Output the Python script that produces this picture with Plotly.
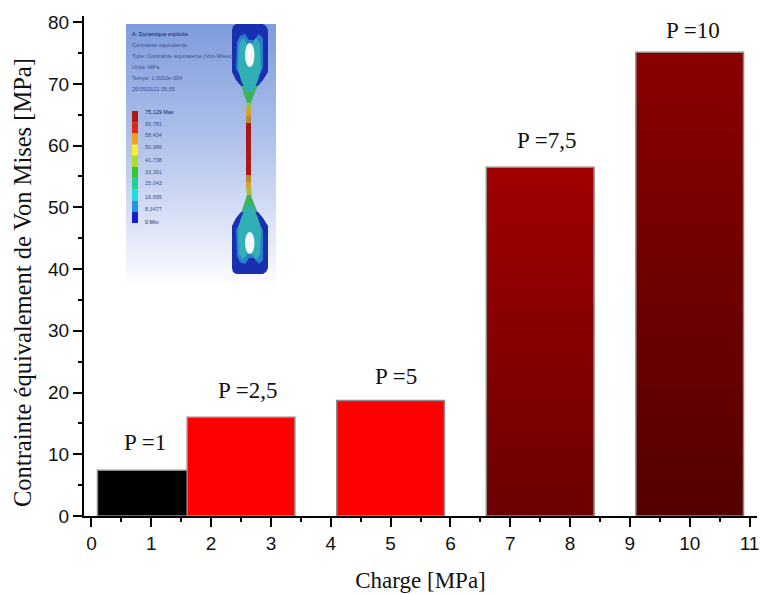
import numpy as np
import plotly.graph_objects as go

# ---- chart data
charges = [1, 2.5, 5, 7.5, 10]
stress = [7.4, 16.0, 18.7, 56.5, 75.13]
bar_width = 1.8
flat_colors = ["#000000", "#ff0000", "#ff0000", "rgba(0,0,0,0)", "rgba(0,0,0,0)"]
grad_top = [None, None, None, "#a00000", "#8a0000"]
grad_bottom = [None, None, None, "#6c0000", "#540000"]
labels = ["P =1", "P =2,5", "P =5", "P =7,5", "P =10"]
label_x = [0.89, 2.6, 5.09, 7.6, 10.06]
label_y = [11.9, 20.4, 22.6, 60.9, 78.7]

# ---- inset picture (in its own pixel-like coordinates)
inset_text = ["A: Dynamique explicite", "Contrainte équivalente",
              "Type: Contrainte équivalente (Von-Mises)", "Unité: MPa",
              "Temps: 1,0002e-004", "25/05/2021 05:55"]
inset_text_y = [33.5, 44.5, 56, 66.5, 78, 89]
scale_labels = ["75,129 Max", "66,781", "58,434", "50,086", "41,738",
                "33,391", "25,043", "16,695", "8,3477", "0 Min"]
scale_y = [112, 123.5, 135, 147, 160, 171.5, 183, 197, 209, 222]
scale_colors = ["#b01818", "#dc2a10", "#eea020", "#f6ee30", "#a8dc30",
                "#30c830", "#20d090", "#20dcdc", "#2098dc", "#1420c8"]
neck_layers = [
    ("#3cb45a", [241, 258, 253, 251, 247, 245], [85, 85, 97, 103, 103, 97]),
    ("#a8c038", [247, 252, 251, 246], [103, 103, 110, 110]),
    ("#d8a030", [246, 251, 251, 246], [110, 110, 116, 116]),
    ("#b88c30", [246, 251, 251, 246], [116, 116, 123, 123]),
    ("#a81818", [246, 251, 251, 246], [123, 123, 175, 175]),
]
head_layers = [
    ("#1830b0", [232, 233, 236, 263, 266, 268, 268, 263, 258, 241, 236, 232],
                [30, 26, 24, 24, 26, 30, 72, 80, 86, 86, 80, 72]),
    ("#2a80c8", [237, 240, 245, 249, 254, 259, 263, 263, 258, 250, 241, 236],
                [42, 36, 34, 40, 40, 34, 38, 68, 78, 86, 78, 68]),
    ("#30b0b4", [239, 243, 247, 252, 256, 260, 261, 258, 253, 246, 241, 238],
                [44, 38, 44, 44, 38, 44, 68, 80, 92, 92, 80, 68]),
]
mirror_y = 298

fig = go.Figure()

# gradient fills of the two dark bars
for x, v, top, bot in zip(charges, stress, grad_top, grad_bottom):
    if top is None:
        continue
    n = 80
    edges = np.linspace(0, v, n + 1)
    fig.add_trace(go.Heatmap(
        x=[x - bar_width / 2, x + bar_width / 2], y=edges,
        z=[[i] for i in range(n)], zmin=0, zmax=n - 1,
        colorscale=[[0, bot], [1, top]], showscale=False, hoverinfo="skip"))

fig.add_trace(go.Bar(
    x=charges, y=stress, width=bar_width,
    marker=dict(color=flat_colors, line=dict(color="#8c8c8c", width=1.5)),
    showlegend=False))

# inset background
bg_edges = np.linspace(24, 283, 81)
fig.add_trace(go.Heatmap(
    x=[126, 276], y=bg_edges, z=[[i] for i in range(80)], xaxis="x2", yaxis="y2",
    colorscale=[[0, "#7f9cdc"], [0.5, "#b6c6ec"], [1, "#fbfbff"]],
    showscale=False, hoverinfo="skip"))


def poly(xs, ys, color):
    fig.add_trace(go.Scatter(
        x=xs + xs[:1], y=ys + ys[:1], xaxis="x2", yaxis="y2", mode="lines",
        fill="toself", fillcolor=color, line=dict(width=0), hoverinfo="skip",
        showlegend=False))


for color, xs, ys in neck_layers + head_layers:
    poly(xs, ys, color)
    poly(xs, [mirror_y - y for y in ys], color)

shapes = []
for cy, ry in [(55, 12), (243, 11)]:
    shapes.append(dict(type="circle", xref="x2", yref="y2", x0=245, x1=254.5,
                       y0=cy - ry, y1=cy + ry, fillcolor="#f4fafa", line=dict(width=0)))
step = (223 - 111) / len(scale_colors)
for i, c in enumerate(scale_colors):
    shapes.append(dict(type="rect", xref="x2", yref="y2", x0=132, x1=138,
                       y0=111 + i * step, y1=111 + (i + 1) * step,
                       fillcolor=c, line=dict(width=0)))

annotations = [dict(x=x, y=y, text=t, showarrow=False, xanchor="center", yanchor="middle",
                    font=dict(family="Liberation Serif", size=23, color="#111111"))
               for x, y, t in zip(label_x, label_y, labels)]
for i, (t, y) in enumerate(zip(inset_text, inset_text_y)):
    annotations.append(dict(x=130, y=y, xref="x2", yref="y2", text=t, showarrow=False,
                            xanchor="left", yanchor="middle",
                            font=dict(family="Liberation Sans Narrow, Liberation Sans", size=5.5,
                                      color="#10205a" if i == 0 else "#3c5090")))
for i, (t, y) in enumerate(zip(scale_labels, scale_y)):
    annotations.append(dict(x=143, y=y, xref="x2", yref="y2", text=t, showarrow=False,
                            xanchor="left", yanchor="middle",
                            font=dict(family="Liberation Sans Narrow, Liberation Sans", size=5.5,
                                      color="#10205a" if i in (0, 9) else "#3c5090")))
annotations.append(dict(xref="paper", yref="paper", x=(22 - 84) / 673, y=(516 - 283) / 500,
                        text="Contrainte équivalement de Von Mises [MPa]", textangle=-90,
                        showarrow=False, xanchor="center", yanchor="middle",
                        font=dict(family="Liberation Serif", size=24.5, color="#111111")))

tick_font = dict(family="Liberation Sans", size=19, color="#111111")

fig.update_layout(
    width=760, height=594, autosize=False,
    margin=dict(l=84, r=3, t=16, b=78, autoexpand=False),
    paper_bgcolor="white", plot_bgcolor="white",
    barmode="overlay", showlegend=False,
    shapes=shapes, annotations=annotations,
    xaxis=dict(range=[-0.125, 11.125], tick0=0, dtick=1, ticks="outside", ticklen=9,
               tickwidth=2, tickcolor="black", showline=True, linecolor="black", linewidth=2,
               showgrid=False, zeroline=False, tickfont=tick_font,
               minor=dict(tick0=0, dtick=0.5, ticks="outside", ticklen=4, tickwidth=2,
                          tickcolor="black", showgrid=False),
               title=dict(text="Charge [MPa]", font=dict(family="Liberation Serif", size=23,
                                                         color="#111111"), standoff=19)),
    yaxis=dict(range=[0, 81], tick0=0, dtick=10, ticks="outside", ticklen=9,
               tickwidth=2, tickcolor="black", showline=True, linecolor="black", linewidth=2,
               showgrid=False, zeroline=False, tickfont=tick_font,
               minor=dict(tick0=0, dtick=5, ticks="outside", ticklen=4, tickwidth=2,
                          tickcolor="black", showgrid=False)),
    xaxis2=dict(domain=[(126 - 84) / 673, (276 - 84) / 673], range=[126, 276], anchor="y2",
                visible=False, fixedrange=True),
    yaxis2=dict(domain=[(516 - 283) / 500, (516 - 24) / 500],
                range=[283, 24], anchor="x2", visible=False, fixedrange=True),
)

fig.write_html("out.html", post_script="document.body.style.margin='0';",
               config={"displayModeBar": False})
